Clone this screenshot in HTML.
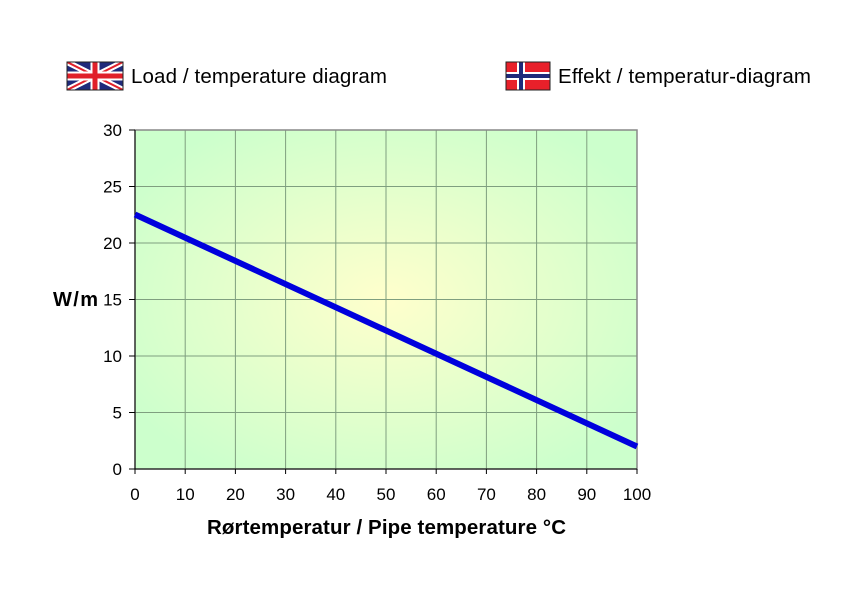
<!DOCTYPE html>
<html><head><style>body{margin:0;background:#fff}</style></head><body>
<svg width="847" height="605" viewBox="0 0 847 605" xmlns="http://www.w3.org/2000/svg" font-family="Liberation Sans, Arial, sans-serif">
<defs>
<radialGradient id="bg" cx="0.5" cy="0.5" r="0.6">
<stop offset="0" stop-color="#ffffcc"/><stop offset="1" stop-color="#ccffcc"/>
</radialGradient>
<clipPath id="uk"><rect x="67" y="62" width="56" height="28"/></clipPath>
</defs>
<g clip-path="url(#uk)">
<rect x="67" y="62" width="56" height="28" fill="#1f2a7a"/>
<path d="M67 62 L123 90 M123 62 L67 90" stroke="#fff" stroke-width="6"/>
<path d="M67 62 L123 90 M123 62 L67 90" stroke="#e0202a" stroke-width="2"/>
<path d="M95 62 V90 M67 76 H123" stroke="#fff" stroke-width="9"/>
<path d="M95 62 V90 M67 76 H123" stroke="#e0202a" stroke-width="5"/>
</g>
<rect x="67" y="62" width="56" height="28" fill="none" stroke="#222" stroke-width="1"/>
<text x="131" y="83" font-size="20.5" textLength="256">Load / temperature diagram</text>
<rect x="506" y="62" width="44" height="28" fill="#e8202a"/>
<path d="M521 62 V90 M506 76 H550" stroke="#fff" stroke-width="8"/>
<path d="M521 62 V90 M506 76 H550" stroke="#1f2a7a" stroke-width="4"/>
<rect x="506" y="62" width="44" height="28" fill="none" stroke="#222" stroke-width="1"/>
<text x="558" y="83" font-size="20.5" textLength="253">Effekt / temperatur-diagram</text>
<rect x="135" y="130" width="502" height="339" fill="url(#bg)"/>
<g stroke="#7f9f7f" stroke-width="1">
<path d="M185.2 130V469M235.4 130V469M285.6 130V469M335.8 130V469M386 130V469M436.2 130V469M486.4 130V469M536.6 130V469M586.8 130V469"/>
<path d="M135 186.5H637M135 243H637M135 299.5H637M135 356H637M135 412.5H637"/>
</g>
<rect x="135" y="130" width="502" height="339" fill="none" stroke="#888" stroke-width="1.5"/>
<path d="M135 130V469H637" fill="none" stroke="#000" stroke-width="1"/>
<g stroke="#000"><path d="M129 130H135M129 186.5H135M129 243H135M129 299.5H135M129 356H135M129 412.5H135M129 469H135"/>
<path d="M135 469v5M185.2 469v5M235.4 469v5M285.6 469v5M335.8 469v5M386 469v5M436.2 469v5M486.4 469v5M536.6 469v5M586.8 469v5M637 469v5"/></g>
<g font-size="17" text-anchor="end">
<text x="122" y="136">30</text><text x="122" y="192.5">25</text><text x="122" y="249">20</text><text x="122" y="305.5">15</text><text x="122" y="362">10</text><text x="122" y="418.5">5</text><text x="122" y="475">0</text>
</g>
<g font-size="17" text-anchor="middle">
<text x="135" y="500">0</text><text x="185.2" y="500">10</text><text x="235.4" y="500">20</text><text x="285.6" y="500">30</text><text x="335.8" y="500">40</text><text x="386" y="500">50</text><text x="436.2" y="500">60</text><text x="486.4" y="500">70</text><text x="536.6" y="500">80</text><text x="586.8" y="500">90</text><text x="637" y="500">100</text>
</g>
<text x="53" y="306" font-size="20" font-weight="bold" textLength="45">W/m</text>
<text x="207" y="534" font-size="20.5" font-weight="bold" textLength="359">Rørtemperatur / Pipe temperature °C</text>
<line x1="135" y1="214.5" x2="637" y2="446.5" stroke="#0000dd" stroke-width="6"/>
</svg>
</body></html>
